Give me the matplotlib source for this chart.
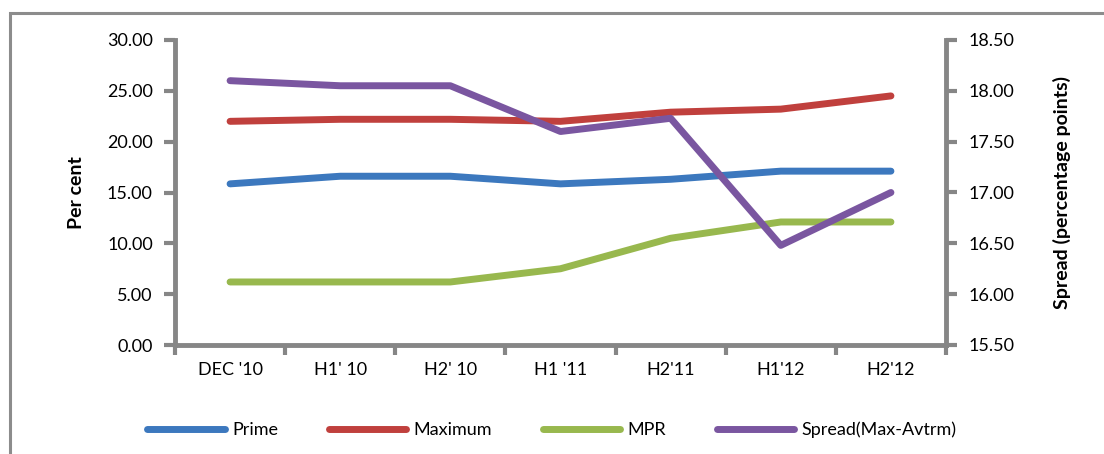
import matplotlib
matplotlib.use("Agg")
import matplotlib.pyplot as plt
from matplotlib.patches import Rectangle
import numpy as np

# half-yearly lending rates (per cent) and spread (percentage points)
periods = ["DEC '10", "H1' 10", "H2' 10", "H1 '11", "H2'11", "H1'12", "H2'12"]
prime = [15.85, 16.6, 16.6, 15.85, 16.3, 17.1, 17.1]
maximum = [22.0, 22.2, 22.2, 22.0, 22.9, 23.2, 24.5]
mpr = [6.2, 6.2, 6.2, 7.5, 10.5, 12.1, 12.1]
spread = [18.1, 18.05, 18.05, 17.6, 17.73, 16.48, 17.0]

plt.rcParams["font.family"] = ["Lato", "DejaVu Sans"]
axis_grey = "#868686"
fs = 13

fig = plt.figure(figsize=(11.04, 4.54), dpi=100)
ax = fig.add_axes([175 / 1104, 1 - 345 / 454, 771 / 1104, 305 / 454])
ax2 = ax.twinx()

x = np.arange(len(periods))
lw = 5
h1, = ax.plot(x, prime, color="#3C78BE", lw=lw, solid_capstyle="round", label="Prime")
h2, = ax.plot(x, maximum, color="#C0403D", lw=lw, solid_capstyle="round", label="Maximum")
h3, = ax.plot(x, mpr, color="#98B84E", lw=lw, solid_capstyle="round", label="MPR")
h4, = ax2.plot(x, spread, color="#7A56A0", lw=lw, solid_capstyle="round",
               label="Spread(Max-Avtrm)")

ax.set_xlim(-0.5, len(periods) - 0.5)
ax.set_ylim(0, 30)
ax2.set_ylim(15.5, 18.5)
ax.set_yticks(np.arange(0, 30.1, 5))
ax2.set_yticks(np.arange(15.5, 18.51, 0.5))
ax.set_yticklabels([f"{v:.2f}" for v in np.arange(0, 30.1, 5)])
ax2.set_yticklabels([f"{v:.2f}" for v in np.arange(15.5, 18.51, 0.5)])

# category boundaries carry the tick marks, labels sit at centres
ax.set_xticks(np.arange(-0.5, len(periods)), minor=False)
ax.set_xticklabels([])
ax.set_xticks(x, minor=True)
ax.set_xticklabels(periods, minor=True)
ax.tick_params(axis="x", which="minor", length=0, pad=12, labelsize=fs)
ax.tick_params(axis="x", which="major", length=7, width=3, color=axis_grey)
ax.tick_params(axis="y", length=8, width=3, color=axis_grey, labelsize=fs, pad=8)
ax2.tick_params(axis="y", length=8, width=3, color=axis_grey, labelsize=fs, pad=8)

for a in (ax, ax2):
    for side in a.spines:
        a.spines[side].set_visible(False)
ax.spines["left"].set_visible(True)
ax.spines["bottom"].set_visible(True)
ax2.spines["right"].set_visible(True)
for sp in (ax.spines["left"], ax.spines["bottom"], ax2.spines["right"]):
    sp.set_color(axis_grey)
    sp.set_linewidth(3.5)

ax.set_ylabel("Per cent", fontsize=14, fontweight="bold", labelpad=16)
ax2.set_ylabel("Spread (percentage points)", fontsize=14, fontweight="bold",
               labelpad=28)

fig.legend(handles=[h1, h2, h3, h4], loc="center", bbox_to_anchor=(0.5, 1 - 430 / 454),
           ncol=4, frameon=False, fontsize=fs, handlelength=4.3,
           columnspacing=2.8, handletextpad=0.4)

# outer chart frame
fig.patches.append(Rectangle((10 / 1104, -0.2), 1.2, 1.2 - 13 / 454,
                             transform=fig.transFigure, fill=False,
                             edgecolor="#8C8C8C", lw=2.2, clip_on=False))

fig.savefig("out.png", dpi=100)
